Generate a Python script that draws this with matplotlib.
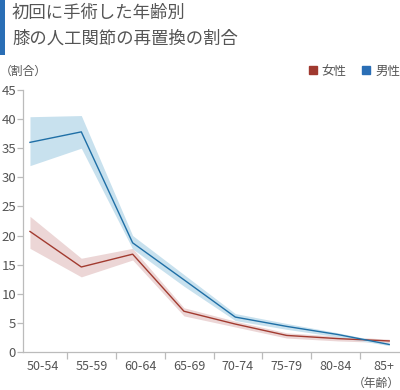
import matplotlib
matplotlib.use('Agg')
import matplotlib.pyplot as plt
from matplotlib.patches import Rectangle
from matplotlib.lines import Line2D

plt.rcParams['font.family'] = ['Noto Sans CJK JP', 'DejaVu Sans']

# 年齢階級
ages = ['50-54', '55-59', '60-64', '65-69', '70-74', '75-79', '80-84', '85+']

# 女性（割合と範囲）
female = [20.7, 14.6, 16.8, 7.0, 4.8, 2.85, 2.3, 1.9]
female_hi = [23.3, 16.1, 17.8, 7.6, 5.3, 3.3, 2.7, 2.2]
female_lo = [17.8, 12.9, 15.8, 6.2, 4.3, 2.4, 1.9, 1.6]

# 男性（割合と範囲）
male = [36.0, 37.8, 18.75, 12.4, 6.0, 4.4, 3.0, 1.3]
male_hi = [40.4, 40.6, 20.0, 13.3, 6.6, 4.9, 3.3, 1.5]
male_lo = [32.0, 35.0, 17.7, 11.3, 5.4, 3.9, 2.6, 1.1]

yticks = [0, 5, 10, 15, 20, 25, 30, 35, 40, 45]

c_f, c_f_band = '#a23b30', '#ecd6d6'
c_m, c_m_band = '#1f6fa6', '#c8e1ee'
c_txt = '#555555'
c_axis = '#bbbbbb'

fig = plt.figure(figsize=(4, 3.9), dpi=100)
ax = fig.add_axes([0.0575, 0.0974, 0.9425, 0.672])

x = list(range(len(ages)))
ax.fill_between(x, female_lo, female_hi, color=c_f_band, lw=0)
ax.fill_between(x, male_lo, male_hi, color=c_m_band, lw=0)
ax.plot(x, female, color=c_f, lw=1.0)
ax.plot(x, male, color=c_m, lw=1.0)

ax.set_xlim(-0.136, 7.21)
ax.set_ylim(0, 45)
ax.set_yticks(yticks)
ax.set_xticks([0.253 + 0.949 * i for i in range(len(ages))])
ax.set_xticklabels(ages)
ax.set_xticks([0.729 + 0.949 * i for i in range(len(ages) - 1)], minor=True)

for s in ['top', 'right']:
    ax.spines[s].set_visible(False)
for s in ['left', 'bottom']:
    ax.spines[s].set_color(c_axis)
    ax.spines[s].set_linewidth(0.9)

ax.tick_params(axis='y', length=4, width=0.9, color=c_axis, labelsize=9.5,
               labelcolor=c_txt, pad=1)
ax.tick_params(axis='x', which='major', length=0, labelsize=9, labelcolor=c_txt, pad=6)
ax.tick_params(axis='x', which='minor', length=5, width=0.9, color=c_axis)

# タイトル
fig.patches.append(Rectangle((0, 1 - 55 / 390), 5 / 400, 55 / 390,
                             transform=fig.transFigure, color='#2a6eb5', lw=0))
fig.text(12 / 400, 1 - 13 / 390, '初回に手術した年齢別', fontsize=12.5,
         color=c_txt, va='center', ha='left')
fig.text(12 / 400, 1 - 39 / 390, '膝の人工関節の再置換の割合', fontsize=12.5,
         color=c_txt, va='center', ha='left')

fig.text(0, 1 - 71 / 390, '（割合）', fontsize=8.5, color=c_txt, va='center', ha='left')
fig.text(1.0, 1 - 383 / 390, '（年齢）', fontsize=8.5, color=c_txt, va='center', ha='right')

handles = [Line2D([], [], ls='', marker='s', ms=6, color='#a0392f'),
           Line2D([], [], ls='', marker='s', ms=6, color='#2a6eb5')]
leg = fig.legend(handles, ['女性', '男性'], loc='center right',
                 bbox_to_anchor=(1.0, 1 - 71 / 390), ncol=2, frameon=False,
                 fontsize=9, handlelength=0.8, handletextpad=0.3, columnspacing=1.2,
                 borderpad=0, borderaxespad=0)
for t in leg.get_texts():
    t.set_color(c_txt)

fig.savefig('out.png', dpi=100)
